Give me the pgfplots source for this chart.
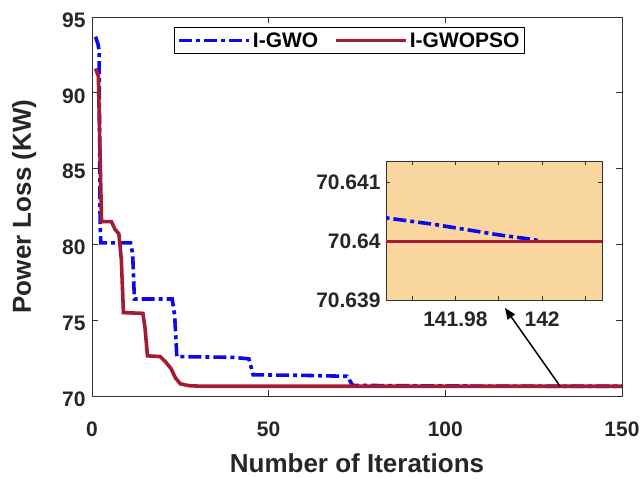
\documentclass[border=0pt]{standalone}
\usepackage{pgfplots}
\pgfplotsset{compat=1.18}
\usepackage{fontspec}
\setmainfont{Liberation Sans}
\usetikzlibrary{arrows.meta}

\definecolor{gwoblue}{RGB}{10,10,235}
\definecolor{psored}{RGB}{163,28,52}
\definecolor{insetbg}{RGB}{248,214,158}
\definecolor{axgray}{RGB}{50,50,50}

\newcommand{\tickfont}{\fontsize{21bp}{24bp}\selectfont\bfseries}
\newcommand{\labelfont}{\fontsize{26bp}{30bp}\selectfont\bfseries}

\pgfplotsset{
  gwo/.style={gwoblue, line width=3.6bp, dash pattern=on 13bp off 4bp on 4bp off 4bp},
  gwopso/.style={psored, line width=3.6bp},
  common/.style={
    scale only axis,
    axis line style={axgray, line width=0.9bp},
    every tick/.style={axgray, line width=0.8bp},
    major tick length=6bp,
    tick align=inside,
    /pgf/number format/assume math mode=true,
    tick label style={font=\tickfont, text=black!85},
  },
}

\begin{document}
\begin{tikzpicture}
% fixed canvas around the main axis box
\path[use as bounding box] (-92bp,-83bp) rectangle (550bp,396bp);

% main convergence plot
\begin{axis}[common,
  name=main, at={(0,0)}, anchor=south west,
  width=530bp, height=379bp,
  xmin=0, xmax=150, ymin=70, ymax=95,
  xtick={0,50,100,150}, ytick={70,75,80,85,90,95},
  xticklabel style={yshift=-22bp},
  yticklabel style={xshift=-3bp, yshift=-3bp},
  xlabel={Number of Iterations}, ylabel={Power Loss (KW)},
  xlabel style={font=\labelfont, text=black!85,
    at={(axis description cs:0.5,-0.177)}, anchor=center},
  ylabel style={font=\labelfont, text=black!85,
    at={(axis description cs:-0.128,0.5)}, anchor=center},
  legend columns=2,
  legend style={at={(0.1547,0.9736)}, anchor=north west, draw=black,
    line width=0.8bp, font=\tickfont, inner xsep=3bp, inner ysep=3bp,
    /tikz/every even column/.append style={column sep=14bp}},
  legend image code/.code={\draw[#1] (0bp,0bp) -- (70bp,0bp);},
]
\addplot[gwo] coordinates {
  (1,93.7) (1.7,93.2) (2.0,92.8) (2.3,81.2) (2.5,80.1) (10.9,80.1)
  (11.5,79.4) (12.0,76.4) (22.7,76.4) (23.4,75.3) (24.0,72.6) (40,72.55)
  (44.4,72.45) (45.6,71.4) (60,71.36) (72.2,71.3) (73.8,70.70) (100,70.66)
  (142,70.64) (150,70.64)
};
\addlegendentry{I-GWO}
\addplot[gwopso] coordinates {
  (1,91.6) (1.8,91.1) (2.7,81.5) (5.5,81.5) (6.5,81.0) (7.6,80.7)
  (8.3,79.0) (8.9,75.5) (14.4,75.45) (15.0,74.5) (15.7,72.65) (19.3,72.6)
  (21.0,72.2) (22.4,71.8) (23.6,71.2) (25.0,70.8) (27.5,70.68) (31,70.645)
  (40,70.64) (150,70.64)
};
\addlegendentry{I-GWOPSO}
\draw[black, line width=1.5bp, -{Triangle[length=11bp, width=9bp]}]
  (axis cs:132.5,70.64) -- (axis cs:116.9,75.8);
\end{axis}

% magnified view near the final iterations
\begin{axis}[common,
  at={(294bp,96bp)}, anchor=south west,
  width=216bp, height=139bp,
  xmin=141.964, xmax=142.0138, ymin=70.639, ymax=70.64137,
  axis background/.style={fill=insetbg},
  clip=true,
  xtick={141.97,141.98,141.99,142,142.01},
  xticklabels={,141.98,,142,},
  ytick={70.639,70.64,70.641},
  yticklabels={70.639,70.64,70.641},
  major tick length=4bp,
  xticklabel style={yshift=-8bp},
  yticklabel style={xshift=-2bp},
]
\addplot[gwo] coordinates {
  (141.960,70.64044) (141.975,70.64029) (141.990,70.64011) (141.998,70.64003) (142.000,70.64)
};
\addplot[gwopso] coordinates {
  (141.960,70.64) (142.020,70.64)
};
\end{axis}
\end{tikzpicture}
\end{document}
